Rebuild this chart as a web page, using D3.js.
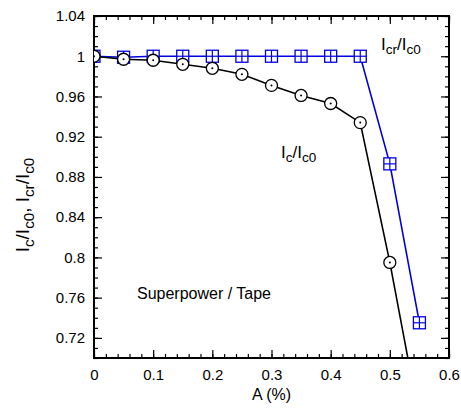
<!DOCTYPE html>
<html><head><meta charset="utf-8">
<script src="https://cdn.jsdelivr.net/npm/d3@7"></script>
<style>body{margin:0;background:#fff}svg{display:block;font-family:"Liberation Sans",Arial,sans-serif}</style>
</head><body><svg id="c" width="461" height="410"></svg>
<script>
const strain = [0, 0.05, 0.1, 0.15, 0.2, 0.25, 0.3, 0.35, 0.4, 0.45, 0.5, 0.55];
const icRatio = [1.0, 0.997, 0.996, 0.992, 0.988, 0.982, 0.971, 0.961, 0.953, 0.934, 0.795, 0.639];
const icrRatio = [1.0, 0.999, 1.0, 1.0, 1.0, 1.0, 1.0, 1.0, 1.0, 1.0, 0.893, 0.735];
const xTicks = [0, 0.1, 0.2, 0.3, 0.4, 0.5, 0.6];
const yTicks = [0.72, 0.76, 0.8, 0.84, 0.88, 0.92, 0.96, 1, 1.04];

const svg = d3.select("#c");
const L = 94, R = 449, T = 16, B = 358;
const x = d3.scaleLinear().domain([0, 0.6]).range([L, R]);
const y = d3.scaleLinear().domain([0.70, 1.04]).range([B, T]);

svg.append("defs").append("clipPath").attr("id","clip")
  .append("rect").attr("x",L).attr("y",T).attr("width",R-L).attr("height",B-T);

const fmt = d => String(+d.toFixed(2));
const xMinor = d3.range(0, 0.6001, 0.02).map(v=>+v.toFixed(2));
const yMinor = d3.range(0.70, 1.0401, 0.01).map(v=>+v.toFixed(2));
function axisG(axis, tr){ const g = svg.append("g").attr("transform",tr).call(axis); g.select(".domain").remove(); g.selectAll("line").attr("stroke","#000").attr("stroke-width",1.2); return g; }
axisG(d3.axisTop(x).tickValues(xMinor).tickSize(4).tickFormat(""), `translate(0,${B})`);
axisG(d3.axisTop(x).tickValues(xTicks).tickSize(8).tickFormat(""), `translate(0,${B})`);
axisG(d3.axisBottom(x).tickValues(xMinor).tickSize(4).tickFormat(""), `translate(0,${T})`);
axisG(d3.axisBottom(x).tickValues(xTicks).tickSize(8).tickFormat(""), `translate(0,${T})`);
axisG(d3.axisRight(y).tickValues(yMinor).tickSize(4).tickFormat(""), `translate(${L},0)`);
axisG(d3.axisRight(y).tickValues(yTicks).tickSize(8).tickFormat(""), `translate(${L},0)`);
axisG(d3.axisLeft(y).tickValues(yMinor).tickSize(4).tickFormat(""), `translate(${R},0)`);
axisG(d3.axisLeft(y).tickValues(yTicks).tickSize(8).tickFormat(""), `translate(${R},0)`);

const xl = svg.append("g").attr("transform",`translate(0,${B})`).call(d3.axisBottom(x).tickValues(xTicks).tickSize(0).tickPadding(11).tickFormat(fmt));
xl.select(".domain").remove();
xl.selectAll("text").attr("font-size",15).attr("fill","#000").attr("font-family","Liberation Sans, Arial, sans-serif");
const yl = svg.append("g").attr("transform",`translate(${L},0)`).call(d3.axisLeft(y).tickValues(yTicks).tickSize(0).tickPadding(9).tickFormat(fmt));
yl.select(".domain").remove();
yl.selectAll("text").attr("font-size",15).attr("fill","#000").attr("font-family","Liberation Sans, Arial, sans-serif");

svg.append("rect").attr("x",L).attr("y",T).attr("width",R-L).attr("height",B-T)
  .attr("fill","none").attr("stroke","#000").attr("stroke-width",2);

const plot = svg.append("g").attr("clip-path","url(#clip)");
const line = d3.line().x(d=>x(d[0])).y(d=>y(d[1]));
const blueData = strain.map((s,i)=>[s, icrRatio[i]]);
const blackData = strain.map((s,i)=>[s, icRatio[i]]);

plot.append("path").datum(blueData).attr("d",line).attr("fill","none").attr("stroke","#0000e0").attr("stroke-width",1.6);
const sq = plot.selectAll("g.sq").data(blueData).join("g").attr("class","sq")
  .attr("transform",d=>`translate(${x(d[0])},${y(d[1])})`);
sq.append("rect").attr("x",-6).attr("y",-6).attr("width",12).attr("height",12).attr("fill","#fff").attr("stroke","#0000e0").attr("stroke-width",1.3);
sq.append("line").attr("x1",0).attr("x2",0).attr("y1",-6).attr("y2",6).attr("stroke","#0000e0").attr("stroke-width",1.2);
sq.append("line").attr("x1",-6).attr("x2",6).attr("y1",0).attr("y2",0).attr("stroke","#0000e0").attr("stroke-width",1.2);

plot.append("path").datum(blackData).attr("d",line).attr("fill","none").attr("stroke","#000").attr("stroke-width",1.6);
const ci = plot.selectAll("g.ci").data(blackData.filter(d=>d[1]>=0.70)).join("g").attr("class","ci")
  .attr("transform",d=>`translate(${x(d[0])},${y(d[1])})`);
ci.append("circle").attr("r",6).attr("fill","#fff").attr("stroke","#000").attr("stroke-width",1.3);
ci.append("circle").attr("r",1).attr("fill","#000");

function subLabel(g, parts, size){
  const t = g.append("text").attr("font-size",size).attr("fill","#000");
  parts.forEach(p=>{
    const ts = t.append("tspan").text(p[0]);
    if (p[1]==="sub") ts.attr("font-size",size*0.8).attr("baseline-shift","-32%");
  });
  return t;
}
subLabel(svg.append("g").attr("transform","translate(381,50)"), [["I"],["cr","sub"],["/I"],["c0","sub"]], 17);
subLabel(svg.append("g").attr("transform","translate(281,158)"), [["I"],["c","sub"],["/I"],["c0","sub"]], 17);
svg.append("text").attr("x",137).attr("y",299).attr("font-size",16).attr("fill","#000").text("Superpower / Tape");

svg.append("text").attr("x",(L+R)/2).attr("y",400).attr("text-anchor","middle").attr("font-size",16).attr("fill","#000").text("A (%)");
const yt = svg.append("g").attr("transform","translate(29,205) rotate(-90)");
const ytt = subLabel(yt, [["I"],["c","sub"],["/I"],["c0","sub"],[",  I"],["cr","sub"],["/I"],["c0","sub"]], 19);
ytt.attr("text-anchor","middle");
</script></body></html>
